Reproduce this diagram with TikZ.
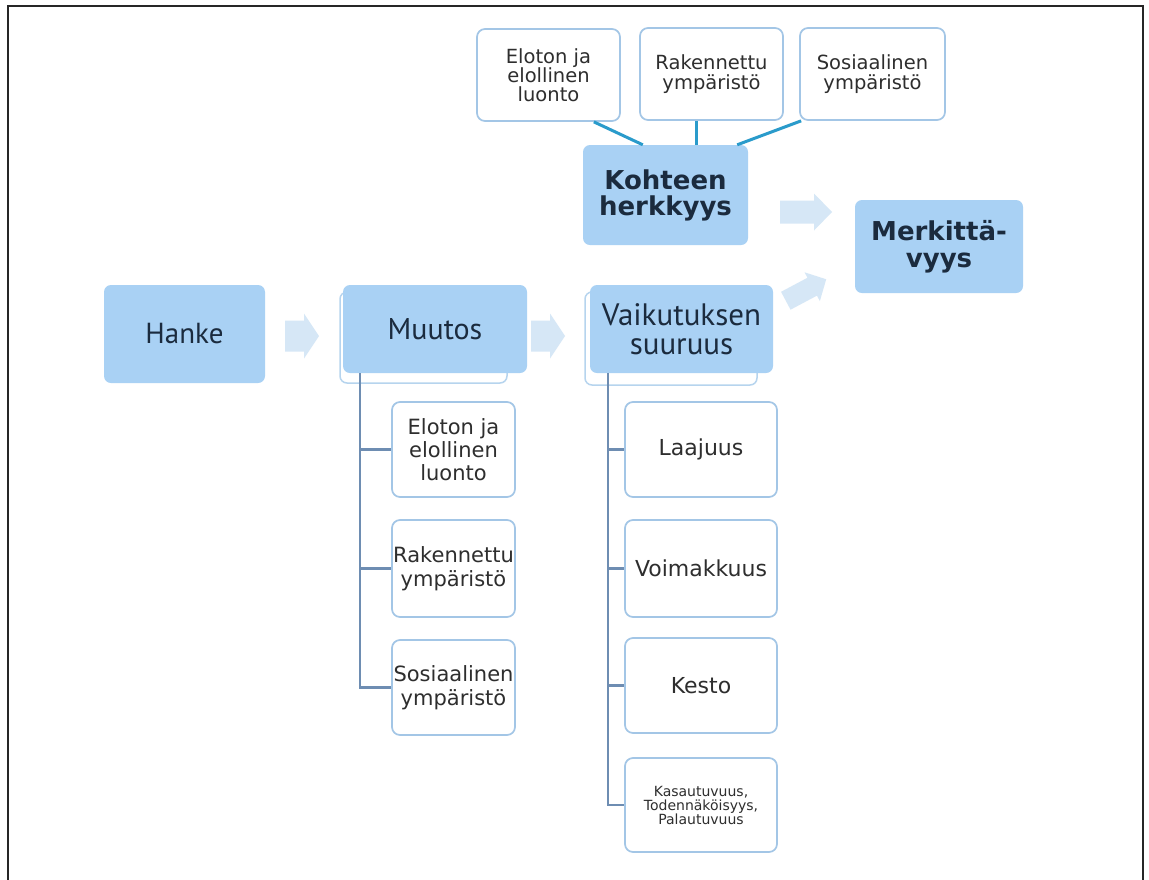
\documentclass[tikz,border=0pt]{standalone}
\usepackage{fontspec}
\setmainfont{DejaVu Sans}
\newfontfamily\ptsans{PT Sans}
\definecolor{mainblue}{HTML}{A9D1F4}
\definecolor{arrowc}{HTML}{D6E7F6}
\definecolor{subedge}{HTML}{A3C6E6}
\definecolor{backedge}{HTML}{B6D4EE}
\definecolor{treec}{HTML}{6E8DB2}
\definecolor{topline}{HTML}{2A9BCB}
\definecolor{navy}{HTML}{1B2B3E}
\definecolor{gtext}{HTML}{2E2E2E}
\tikzset{
  mainbox/.style={fill=mainblue, rounded corners=7, inner sep=0, align=center, text=navy},
  backbox/.style={draw=backedge, line width=1.5, fill=white, rounded corners=7, inner sep=0},
  subbox/.style={draw=subedge, line width=1.7, fill=white, rounded corners=8, inner sep=0, align=center, text=gtext},
  tree/.style={draw=treec, line width=2.5},
  topconn/.style={draw=topline, line width=3},
  flowarrow/.pic={\fill[arrowc] (-17,-15.5) -- (2,-15.5) -- (2,-22.5) -- (17,0) -- (2,22.5) -- (2,15.5) -- (-17,15.5) -- cycle;},
  bigarrow/.pic={\fill[arrowc] (-26,-11.5) -- (8,-11.5) -- (8,-18.5) -- (26,0) -- (8,18.5) -- (8,11.5) -- (-26,11.5) -- cycle;}
}
\begin{document}
\begin{tikzpicture}[x=1pt,y=-1pt]
\useasboundingbox (0,0) rectangle (1149,879);
\fill[white] (0,0) rectangle (1149,879);
\draw[line width=2, black!85] (8,885) -- (8,6) -- (1143,6) -- (1143,885);

% top boxes
\node[subbox, minimum width=143, minimum height=92, font=\fontsize{19.5}{19}\selectfont] (t1) at (548.5,75) {Eloton ja\\elollinen\\luonto};
\node[subbox, minimum width=143, minimum height=92, font=\fontsize{19.5}{20}\selectfont] (t2) at (711.5,74) {Rakennettu\\ympäristö};
\node[subbox, minimum width=145, minimum height=92, font=\fontsize{19.5}{20}\selectfont] (t3) at (872.5,74) {Sosiaalinen\\ympäristö};

% main boxes
\node[mainbox, minimum width=165, minimum height=100, font=\bfseries\fontsize{26}{26}\selectfont] (koh) at (665.5,195) {Kohteen\\herkkyys};
\node[mainbox, minimum width=168, minimum height=93, font=\bfseries\fontsize{26}{27}\selectfont] (merk) at (939,246.5) {Merkittä-\\vyys};
\node[mainbox, minimum width=161, minimum height=98, font=\ptsans\fontsize{29}{30}\selectfont] (hanke) at (184.5,334) {Hanke};
\node[backbox, minimum width=167, minimum height=91] (muutosback) at (423.5,337.5) {};
\node[backbox, minimum width=172, minimum height=93] (vaikback) at (671,338.5) {};
\node[mainbox, minimum width=184, minimum height=88, font=\ptsans\fontsize{30}{30}\selectfont] (muutos) at (435,329) {Muutos};
\node[mainbox, minimum width=183, minimum height=88, font=\ptsans\fontsize{31}{29}\selectfont] (vaik) at (681.5,329) {Vaikutuksen\\suuruus};

% top connectors
\draw[topconn] ([xshift=-27]t1.south east) -- ([xshift=60]koh.north west);
\draw[topconn] ([xshift=-15]t2.south) -- ([xshift=-15]t2.south |- koh.north);
\draw[topconn] ([xshift=2]t3.south west) -- ([xshift=-11]koh.north east);

% arrows
\pic at (302,336) {flowarrow};
\pic at (548,336) {flowarrow};
\pic at (806,212) {bigarrow};
\pic[rotate=28, scale=0.88] at (806,290) {bigarrow};

% Muutos list
\node[subbox, minimum width=123, minimum height=95, font=\fontsize{21}{23}\selectfont] (m1) at (453.5,449.5) {Eloton ja\\elollinen\\luonto};
\node[subbox, minimum width=123, minimum height=97, font=\fontsize{21}{24}\selectfont] (m2) at (453.5,568.5) {Rakennettu\\ympäristö};
\node[subbox, minimum width=123, minimum height=95, font=\fontsize{21}{24}\selectfont] (m3) at (453.5,687.5) {Sosiaalinen\\ympäristö};
\coordinate (mtop) at ([xshift=17]muutos.south west);
\draw[tree] (mtop) |- (m3.west);
\draw[tree] (mtop |- m1.west) -- (m1.west);
\draw[tree] (mtop |- m2.west) -- (m2.west);

% Vaikutuksen list
\node[subbox, minimum width=152, minimum height=95, font=\fontsize{22}{24}\selectfont] (v1) at (701,449.5) {Laajuus};
\node[subbox, minimum width=152, minimum height=97, font=\fontsize{22}{24}\selectfont] (v2) at (701,568.5) {Voimakkuus};
\node[subbox, minimum width=152, minimum height=95, font=\fontsize{22}{24}\selectfont] (v3) at (701,685.5) {Kesto};
\node[subbox, minimum width=152, minimum height=94, font=\fontsize{14}{14}\selectfont] (v4) at (701,805) {Kasautuvuus,\\Todennäköisyys,\\Palautuvuus};
\coordinate (vtop) at ([xshift=18]vaik.south west);
\draw[tree] (vtop) |- (v4.west);
\draw[tree] (vtop |- v1.west) -- (v1.west);
\draw[tree] (vtop |- v2.west) -- (v2.west);
\draw[tree] (vtop |- v3.west) -- (v3.west);
\end{tikzpicture}
\end{document}
